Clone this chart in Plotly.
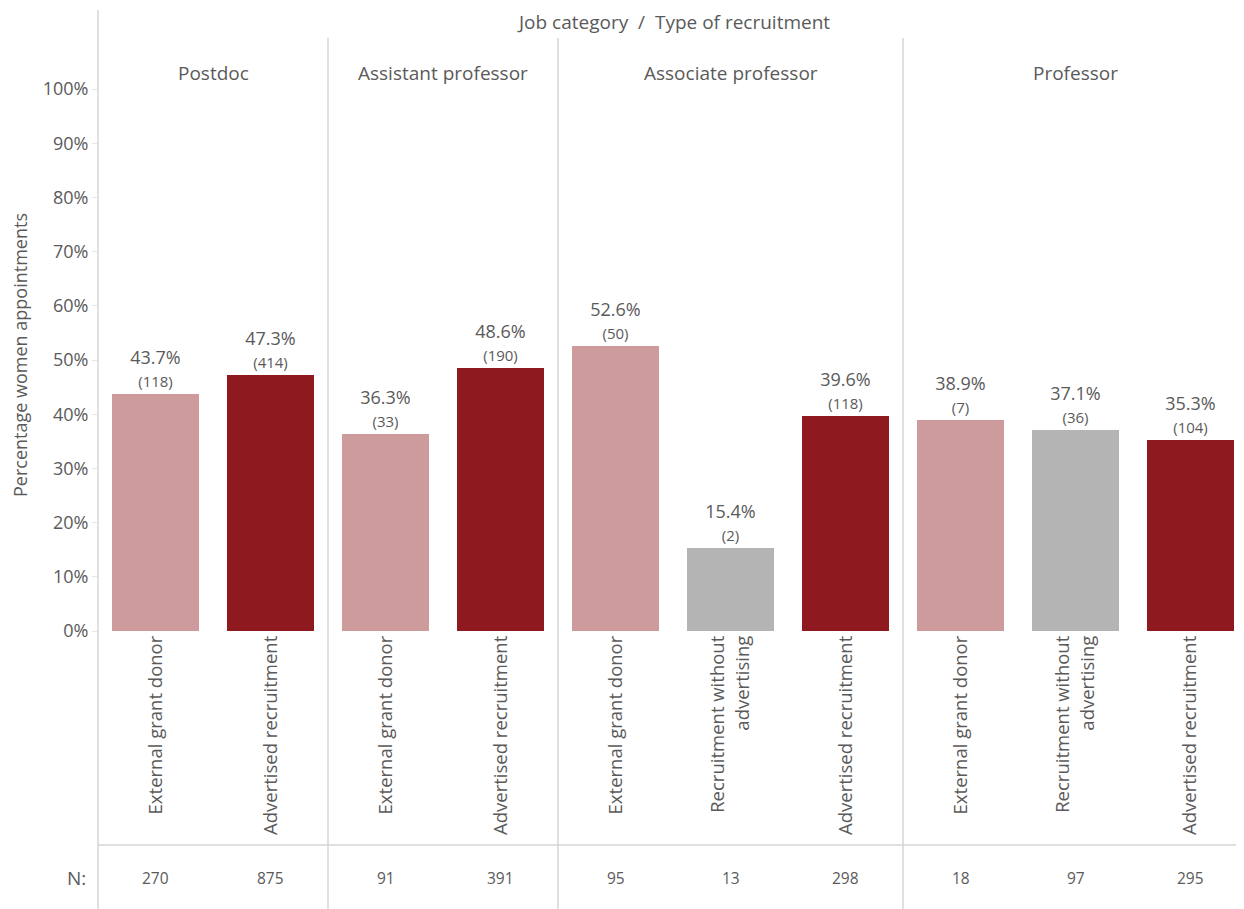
import plotly.graph_objects as go

# ---- data ----
job_categories = ["Postdoc", "Assistant professor", "Associate professor", "Professor"]
bar_job = [0, 0, 1, 1, 2, 2, 2, 3, 3, 3]
recruitment_types = [
    "External grant donor", "Advertised recruitment",
    "External grant donor", "Advertised recruitment",
    "External grant donor", "Recruitment without advertising", "Advertised recruitment",
    "External grant donor", "Recruitment without advertising", "Advertised recruitment",
]
pct_women = [43.7, 47.3, 36.3, 48.6, 52.6, 15.4, 39.6, 38.9, 37.1, 35.3]
n_women = [118, 414, 33, 190, 50, 2, 118, 7, 36, 104]
n_total = [270, 875, 91, 391, 95, 13, 298, 18, 97, 295]
y_ticks = [0, 10, 20, 30, 40, 50, 60, 70, 80, 90, 100]

type_colors = {
    "External grant donor": "#cd9b9b",
    "Advertised recruitment": "#8e191e",
    "Recruitment without advertising": "#b4b4b4",
}

FONT = "Open Sans"
TXT = "#5a5a5a"
LINE = "#d6d6d6"

# page has an 8px body margin; compensate so the chart lands at the reference pixel positions
OFF = 8
PAGE_W, PAGE_H = 1244, 909
W, H = PAGE_W - OFF, PAGE_H - OFF
ML, MR, MT, MB = 98 - OFF, 0, 89 - OFF, PAGE_H - 631
plot_h = H - MT - MB
plot_w = W - ML - MR


def py(page_px):
    # page pixel y (from top) -> paper coordinate
    return (PAGE_H - MB - page_px) / plot_h


xs = list(range(len(pct_women)))
tick_text = [t.replace("without ", "without<br>") for t in recruitment_types]
labels = [f"{p:.1f}%<br><span style='font-size:15px'>({n})</span>" for p, n in zip(pct_women, n_women)]

fig = go.Figure()
fig.add_trace(go.Bar(
    x=xs, y=pct_women, width=0.75,
    marker=dict(color=[type_colors[t] for t in recruitment_types], line=dict(width=0)),
    text=labels, textposition="outside", cliponaxis=False,
    textfont=dict(family=FONT, size=18, color=TXT),
    hoverinfo="skip",
))

shapes = []
shapes.append(dict(type="line", xref="paper", yref="paper", x0=0, x1=0, y0=py(10), y1=py(PAGE_H + 5),
                   line=dict(color=LINE, width=1.5)))
bounds = []
start = 0
for j in range(len(job_categories)):
    cnt = bar_job.count(j)
    bounds.append((start - 0.5, start + cnt - 0.5))
    start += cnt
for (a, b) in bounds[:-1]:
    shapes.append(dict(type="line", xref="x", yref="paper", x0=b, x1=b, y0=py(38), y1=py(PAGE_H + 5),
                       line=dict(color=LINE, width=1.5)))
shapes.append(dict(type="line", xref="paper", yref="paper", x0=0, x1=1, y0=py(845), y1=py(845),
                   line=dict(color=LINE, width=1.5)))

annotations = []
annotations.append(dict(text="Job category  /  Type of recruitment", xref="paper", yref="paper",
                        x=(673 - 98) / plot_w, y=py(22), showarrow=False, xanchor="center", yanchor="middle",
                        font=dict(family=FONT, size=19, color=TXT)))
for j, name in enumerate(job_categories):
    a, b = bounds[j]
    annotations.append(dict(text=name, xref="x", yref="paper", x=(a + b) / 2, y=py(73),
                            showarrow=False, xanchor="center", yanchor="middle",
                            font=dict(family=FONT, size=19, color=TXT)))
annotations.append(dict(text="N:", xref="paper", yref="paper", x=-(98 - 88) / plot_w, y=py(878),
                        showarrow=False, xanchor="right", yanchor="middle",
                        font=dict(family=FONT, size=19, color=TXT)))
for x, n in zip(xs, n_total):
    annotations.append(dict(text=str(n), xref="x", yref="paper", x=x, y=py(878), showarrow=False,
                            xanchor="center", yanchor="middle", font=dict(family=FONT, size=15.5, color=TXT)))
annotations.append(dict(text="Percentage women appointments", xref="paper", yref="paper",
                        x=-(98 - 20) / plot_w, y=py(355), showarrow=False, textangle=-90,
                        xanchor="center", yanchor="middle", font=dict(family=FONT, size=18, color=TXT)))

slot = 115.0
x_right = -0.5 + plot_w / slot

fig.update_layout(
    width=W, height=H,
    margin=dict(l=ML, r=MR, t=MT, b=MB, autoexpand=False),
    paper_bgcolor="white", plot_bgcolor="white",
    showlegend=False,
    font=dict(family=FONT, color=TXT),
    xaxis=dict(range=[-0.5, x_right], tickvals=xs, ticktext=tick_text, tickangle=-90,
               showgrid=False, zeroline=False, showline=False, ticks="",
               tickfont=dict(family=FONT, size=18.5, color=TXT), fixedrange=True),
    yaxis=dict(range=[0, 100], tickvals=y_ticks, ticktext=[f"{v}%" for v in y_ticks],
               showgrid=False, zeroline=False, showline=False, ticks="outside", ticklen=5,
               tickcolor="#e6e6e6", tickfont=dict(family=FONT, size=18, color=TXT), fixedrange=True),
    shapes=shapes, annotations=annotations, bargap=0,
)

fig.write_html("out.html")
